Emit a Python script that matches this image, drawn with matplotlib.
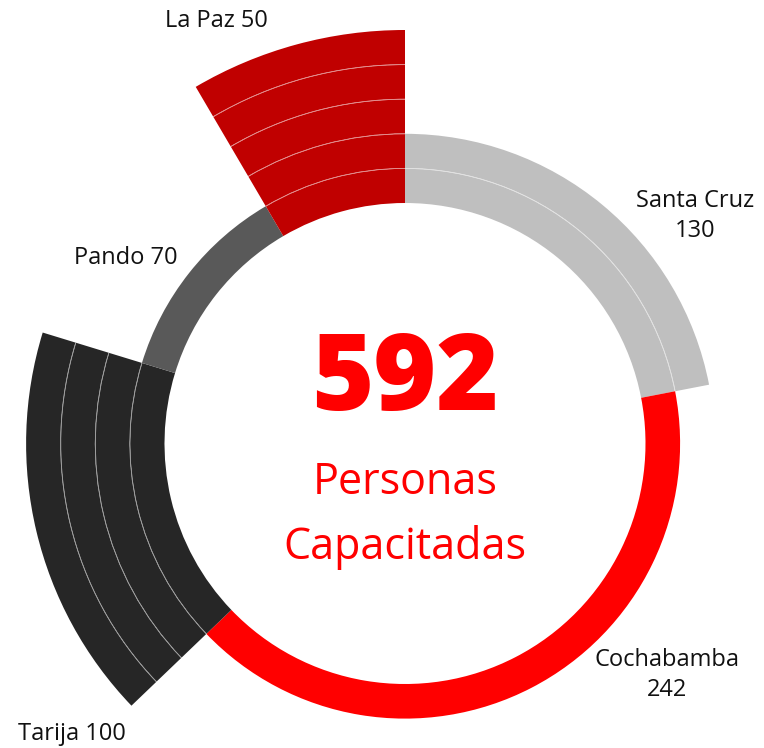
import matplotlib

matplotlib.use("Agg")
import matplotlib.pyplot as plt  # noqa: E402
from matplotlib.patches import Wedge  # noqa: E402

# data, clockwise from 12 o'clock
regions = ["Santa Cruz", "Cochabamba", "Tarija", "Pando", "La Paz"]
values = [130, 242, 100, 70, 50]
layers = [2, 1, 4, 1, 5]          # radial bands per segment
colors = ["#BFBFBF", "#FF0000", "#262626", "#595959", "#C00000"]
labels = ["Santa Cruz\n130", "Cochabamba\n242", "Tarija 100", "Pando 70", "La Paz 50"]
label_pos = [(695, 216), (667, 675), (72, 734), (126, 258), (216, 21)]  # pixels
total_text = "592"
subtitle = ["Personas", "Capacitadas"]

W, H = 764, 748
CX, CY = 405, 443.5      # centre in pixels
R0 = 240.5               # inner radius, px
BAND = 34.6              # band thickness, px

plt.rcParams["font.family"] = ["Open Sans", "DejaVu Sans"]

fig = plt.figure(figsize=(W / 100, H / 100), dpi=100)
ax = fig.add_axes([0, 0, 1, 1])
ax.set_xlim(0, W)
ax.set_ylim(H, 0)
ax.set_aspect("equal")
ax.axis("off")

total = sum(values)
start = 0.0
for val, n, col in zip(values, layers, colors):
    span = 360.0 * val / total
    # clockwise from top; y axis is flipped so angles mirror
    t1 = start - 90
    t2 = start + span - 90
    for k in range(n):
        r_out = R0 + BAND * (k + 1)
        ax.add_patch(Wedge((CX, CY), r_out, t1, t2, width=BAND,
                           facecolor=col, edgecolor="none", antialiased=True))
        if k > 0:
            ax.add_patch(Wedge((CX, CY), R0 + BAND * k, t1, t2, width=0,
                               facecolor="none", edgecolor=(1, 1, 1, 0.4), lw=0.6))
    start += span

for txt, (x, y) in zip(labels, label_pos):
    ax.text(x, y, txt, ha="center", va="center", fontsize=17,
            color="#111111", linespacing=1.3)

ax.text(CX, 410, total_text, ha="center", va="baseline", fontsize=77,
        fontweight="heavy", color="#FF0000")
ax.text(CX, 494, subtitle[0], ha="center", va="baseline", fontsize=31,
        color="#FF0000")
ax.text(CX, 559, subtitle[1], ha="center", va="baseline", fontsize=31,
        color="#FF0000")

fig.savefig("out.png", dpi=100)
